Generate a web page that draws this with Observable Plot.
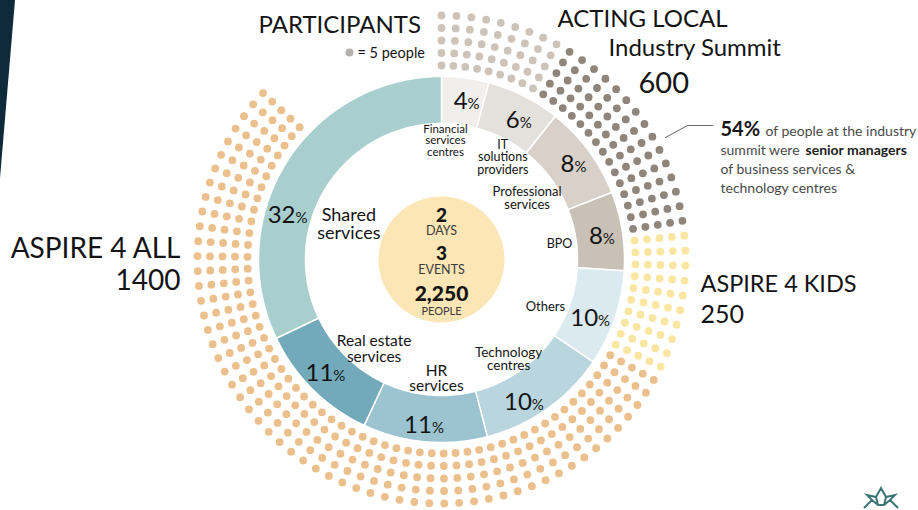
<!DOCTYPE html>
<html><head><meta charset="utf-8">
<script src="https://cdn.jsdelivr.net/npm/d3@7"></script>
<script src="https://cdn.jsdelivr.net/npm/@observablehq/plot@0.6"></script>
<style>
html,body{margin:0;padding:0;background:#fff;}
#wrap{position:relative;width:918px;height:510px;overflow:hidden;background:#fff;}
#strip{position:absolute;left:0;top:0;width:15px;height:178px;background:#0f2a3b;clip-path:polygon(0 0,100% 0,0 100%);}
#logo{position:absolute;left:0;top:0;pointer-events:none;}
</style></head><body>
<div id="wrap"><div id="chart"></div><div id="strip"></div>
<svg id="logo" width="918" height="510"><path d="M864 508 L872 500 L867 495 L876 497 L881 488 L886 497 L895 495 L890 500 L898 508 M872 500 L878 505 L884 505 L890 500 M876 497 L878 505 M886 497 L884 505" fill="none" stroke="#3b7775" stroke-width="2" stroke-linejoin="miter"/></svg>
</div>
<script>
// ---------- DATA ----------
const sectors = ["Financial services centres","IT solutions providers","Professional services","BPO","Others","Technology centres","HR services","Real estate services","Shared services"];
const sectorLabels = ["Financial\nservices\ncentres","IT\nsolutions\nproviders","Professional\nservices","BPO","Others","Technology\ncentres","HR\nservices","Real estate\nservices","Shared\nservices"];
const sectorPct = [4, 6, 8, 8, 10, 10, 11, 11, 32];
// drawn arc span of each sector in degrees
const sectorArcDeg = [15, 23.5, 30, 25, 30.5, 41.5, 39.5, 39.5, 115.5];
const sectorColors = ["#f1eeeb","#e4e0db","#d8d0c9","#c9c0b6","#dbeaef","#b9d6de","#9cc4d0","#72aabb","#a8cfce"];

const eventNames = ["ACTING LOCAL", "ASPIRE 4 KIDS", "ASPIRE 4 ALL"];
const eventPeople = [600, 250, 1400];
const peoplePerDot = 5;
const dotGroups = ["Industry Summit – other", "Industry Summit – senior managers", "Aspire 4 Kids", "Aspire 4 All"];
const dotCounts = [45, 75, 50, 280]; // dots (1 dot = 5 people)
const dotColors = ["#cdc4b9", "#8f857b", "#fbe6a1", "#ebc08c"];

const statValues = [2, 3, 2250];
const statUnits = ["DAYS", "EVENTS", "PEOPLE"];
const seniorShare = 54;

// ---------- LAYOUT ----------
const cx = 441, cy = 259, rOuter = 183, rInner = 136, rCenter = 63;
const rings = 5, ringR0 = 194, ringStep = 12.5, dotR = 3.9, sweep = 313;
const pctAngle = [9, 29, 54, 81.5, 111.6, 150, 186, 225.7, 286];
const pctRadius = [160, 159, 163, 162, 160, 165, 166, 162, 160];
const labelAngle = [1.9, 31, 54.6, 82.3, 114.3, 146, 182.4, 217, 290.6];
const labelRadius = [119, 119, 105, 119, 114, 120, 119, 112, 99];
const labelSize = [11.5, 12.5, 13, 12.5, 13, 13.5, 15.5, 15.5, 18];

const rad = d => d * Math.PI / 180;
const polar = (a, r) => ({x: cx + r * Math.sin(rad(a)), y: cy - r * Math.cos(rad(a))});

// donut arcs
let acc = 0;
const arcPts = [];
sectors.forEach((s, i) => {
  const a0 = acc, a1 = acc + sectorArcDeg[i]; acc = a1;
  const n = Math.max(2, Math.ceil(sectorArcDeg[i]));
  for (let k = 0; k <= n; k++) arcPts.push({sector: s, ...polar(a0 + (a1 - a0) * k / n, rOuter)});
  for (let k = n; k >= 0; k--) arcPts.push({sector: s, ...polar(a0 + (a1 - a0) * k / n, rInner)});
});

// dot rings
const totalDots = d3.sum(dotCounts);
const cols = Math.ceil(totalDots / rings);
const step = sweep / (cols - 1);
const dotData = [];
let idx = 0;
dotGroups.forEach((g, i) => {
  for (let k = 0; k < dotCounts[i]; k++, idx++) {
    const c = Math.floor(idx / rings), ring = rings - 1 - (idx % rings);
    dotData.push({group: g, ...polar(c * step, ringR0 + ring * ringStep)});
  }
});

// percent labels
const numSize = 24, pctSize = 15;
const pctData = sectors.map((s, i) => {
  const p = polar(pctAngle[i], pctRadius[i]);
  const digits = String(sectorPct[i]).length;
  const split = p.x + (digits * 0.56 * numSize - 0.75 * pctSize) / 2;
  return {num: String(sectorPct[i]), x: split, y: p.y + 8};
});
const labelData = sectors.map((s, i) => ({text: sectorLabels[i], size: labelSize[i], ...polar(labelAngle[i], labelRadius[i])}));

// center stats
const fmt = d3.format(",");
const statY = [221, 259, 300], unitY = [234, 273, 314];
const statData = statValues.map((v, i) => ({text: fmt(v), x: cx, y: statY[i], size: i === 2 ? 21 : 19}));
const unitData = statUnits.map((u, i) => ({text: u, x: cx, y: unitY[i], size: i === 2 ? 11 : 12.5}));

const ink = "#141414";
const T = (data, o) => Plot.text(data, {x: "x", y: "y", text: "text", lineAnchor: "bottom", fill: ink, ...o});

const headingsStart = [
  {text: "PARTICIPANTS", x: 258, y: 32, size: 24},
  {text: eventNames[0], x: 557, y: 26, size: 24},
  {text: "Industry Summit", x: 608, y: 55, size: 24},
  {text: String(eventPeople[0]), x: 638, y: 92, size: 29},
  {text: eventNames[1], x: 700, y: 291, size: 23.5},
  {text: String(eventPeople[1]), x: 700, y: 322, size: 25}
];
const headingsEnd = [
  {text: eventNames[2], x: 180, y: 257, size: 28},
  {text: String(eventPeople[2]), x: 180, y: 289, size: 28}
];

const chart = Plot.plot({
  width: 918, height: 510, margin: 0,
  x: {type: "identity", axis: null}, y: {type: "identity", axis: null},
  color: {domain: [...sectors, ...dotGroups], range: [...sectorColors, ...dotColors]},
  style: {fontFamily: "Lato, 'Open Sans', sans-serif", background: "white", overflow: "visible"},
  marks: [
    Plot.line(arcPts, {x: "x", y: "y", z: "sector", fill: "sector", stroke: "white", strokeWidth: 1.5, curve: "linear-closed"}),
    Plot.dot([{x: cx, y: cy}], {x: "x", y: "y", r: rCenter, fill: "#fde6b5"}),
    Plot.dot(dotData, {x: "x", y: "y", r: dotR, fill: "group"}),
    // percentages
    Plot.text(pctData, {x: "x", y: "y", text: "num", textAnchor: "end", lineAnchor: "bottom", fontSize: numSize, fill: ink}),
    Plot.text(pctData, {x: "x", y: "y", text: () => "%", textAnchor: "start", lineAnchor: "bottom", fontSize: pctSize, fill: ink}),
    // sector labels
    Plot.text(labelData, {x: "x", y: "y", text: "text", fontSize: d => d.size, lineHeight: 1.0, lineAnchor: "middle", fill: ink}),
    // centre
    T(statData, {fontSize: d => d.size, fontWeight: 900}),
    T(unitData, {fontSize: d => d.size, fill: "#3c3c3c"}),
    // headings
    T(headingsStart, {fontSize: d => d.size, textAnchor: "start"}),
    T(headingsEnd, {fontSize: d => d.size, textAnchor: "end"}),
    // legend
    Plot.dot([{x: 349, y: 52}], {x: "x", y: "y", r: 4, fill: "#b5b1ad"}),
    T([{text: `= ${peoplePerDot} people`, x: 357, y: 57}], {fontSize: 14.5, textAnchor: "start"}),
    // callout
    Plot.line([{x: 665, y: 137}, {x: 687, y: 125}, {x: 712, y: 125}], {x: "x", y: "y", stroke: "#666", strokeWidth: 1}),
    T([{text: `${seniorShare}%`, x: 720, y: 135}], {fontSize: 20, fontWeight: 700, textAnchor: "start"}),
    T([{text: "of people at the industry", x: 765, y: 135},
       {text: "summit were", x: 720, y: 154},
       {text: "of business services &", x: 720, y: 173},
       {text: "technology centres", x: 720, y: 192}], {fontSize: 14, textAnchor: "start", fill: "#4a4a4a"}),
    T([{text: "senior managers", x: 805, y: 154}], {fontSize: 14, fontWeight: 700, textAnchor: "start", fill: "#222"})
  ]
});
document.getElementById("chart").appendChild(chart);
</script>
</body></html>
